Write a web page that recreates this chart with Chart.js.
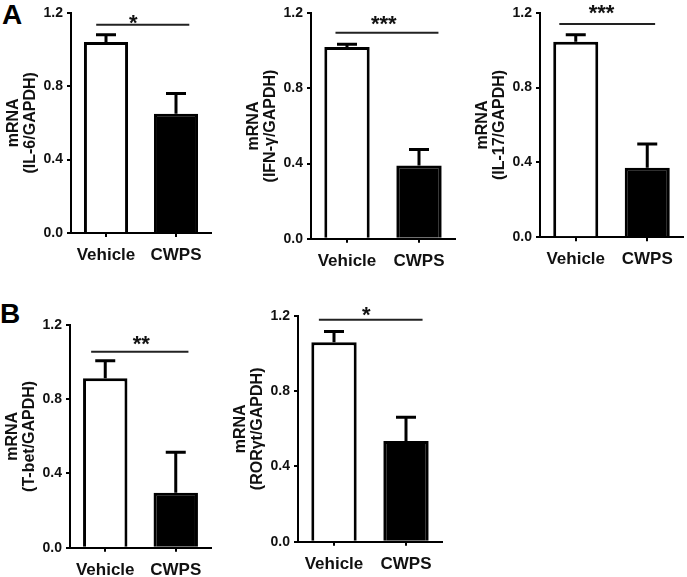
<!DOCTYPE html>
<html>
<head>
<meta charset="utf-8">
<script src="https://cdn.jsdelivr.net/npm/chart.js@4.4.1/dist/chart.umd.min.js"></script>
<style>
  html, body { margin: 0; padding: 0; background: #fff; }
  body { width: 687px; height: 577px; position: relative; overflow: hidden; font-family: "Liberation Sans", Arial, sans-serif; }
  canvas { position: absolute; }
  .panel-letter { position: absolute; font-weight: bold; font-size: 28px; line-height: 28px; color: #000; }
</style>
</head>
<body>
<div class="panel-letter" style="left:2px; top:1px;">A</div>
<div class="panel-letter" style="left:0px; top:300px;">B</div>
<canvas id="c1"></canvas>
<canvas id="c2"></canvas>
<canvas id="c3"></canvas>
<canvas id="c4"></canvas>
<canvas id="c5"></canvas>
<script>
// ---------- data ----------
const categories = ['Vehicle', 'CWPS'];

const il6Means   = [1.04, 0.65];
const il6Errors  = [0.04, 0.11];
const ifngMeans  = [1.02, 0.39];
const ifngErrors = [0.015, 0.085];
const il17Means  = [1.045, 0.372];
const il17Errors = [0.037, 0.126];
const tbetMeans  = [0.913, 0.296];
const tbetErrors = [0.095, 0.218];
const rorMeans   = [1.06, 0.536];
const rorErrors  = [0.057, 0.126];

const yTickValues = [0.0, 0.4, 0.8, 1.2];
const significance = ['*', '***', '***', '**', '*'];
const sigLevels = [1.134, 1.097, 1.14, 1.056, 1.18];

const yTitles = [
  ['mRNA', '(IL-6/GAPDH)'],
  ['mRNA', '(IFN-\u03B3/GAPDH)'],
  ['mRNA', '(IL-17/GAPDH)'],
  ['mRNA', '(T-bet/GAPDH)'],
  ['mRNA', '(ROR\u03B3t/GAPDH)']
];

// ---------- layout (positions / styles only) ----------
const FONT = '"Liberation Sans", Arial, sans-serif';
const Y_AXIS_W = 66;
const panels = [
  { id: 'c1', means: il6Means,  errors: il6Errors,  l: 71,  r: 211, t: 12.7, b: 233,   rowTop: 0,   rowBottom: 280, sigFrom: -0.14, sigTo: 1.19, starAt: 0.39, starGap: 3 },
  { id: 'c2', means: ifngMeans, errors: ifngErrors, l: 311, r: 455, t: 13.3, b: 238.7, rowTop: 0,   rowBottom: 280, sigFrom: -0.16, sigTo: 1.27, starAt: 0.51, starGap: 10 },
  { id: 'c3', means: il17Means, errors: il17Errors, l: 540, r: 683, t: 12.7, b: 237.3, rowTop: 0,   rowBottom: 280, sigFrom: -0.23, sigTo: 1.11, starAt: 0.36, starGap: 12 },
  { id: 'c4', means: tbetMeans, errors: tbetErrors, l: 70,  r: 211, t: 325,  b: 547.7, rowTop: 295, rowBottom: 577, sigFrom: -0.2,  sigTo: 1.18, starAt: 0.51, starGap: 9 },
  { id: 'c5', means: rorMeans,  errors: rorErrors,  l: 298, r: 442, t: 316,  b: 541.7, rowTop: 295, rowBottom: 577, sigFrom: -0.21, sigTo: 1.23, starAt: 0.45, starGap: 6 }
];

const annotPlugin = {
  id: 'annot',
  afterDatasetsDraw(chart) {
    const p = chart.options.plugins.annot;
    const { ctx } = chart;
    const x = chart.scales.x, y = chart.scales.y;
    const meta = chart.getDatasetMeta(0);
    ctx.save();
    // error bars (upper only)
    ctx.strokeStyle = '#000';
    ctx.lineWidth = 3;
    ctx.lineCap = 'butt';
    meta.data.forEach((bar, i) => {
      const top = y.getPixelForValue(p.means[i] + p.errors[i]);
      const base = y.getPixelForValue(p.means[i]);
      ctx.beginPath();
      ctx.moveTo(bar.x, base);
      ctx.lineTo(bar.x, top);
      ctx.moveTo(bar.x - 10, top);
      ctx.lineTo(bar.x + 10, top);
      ctx.stroke();
    });
    // significance line + stars
    const x0 = x.getPixelForValue(0);
    const step = x.getPixelForValue(1) - x0;
    const ly = y.getPixelForValue(p.sigLevel);
    ctx.strokeStyle = '#222';
    ctx.lineWidth = 2;
    ctx.beginPath();
    ctx.moveTo(x0 + step * p.sigFrom, ly);
    ctx.lineTo(x0 + step * p.sigTo, ly);
    ctx.stroke();
    ctx.fillStyle = '#111';
    ctx.font = 'bold 22px ' + FONT;
    ctx.textAlign = 'center';
    ctx.textBaseline = 'alphabetic';
    ctx.fillText(p.stars, x0 + step * p.starAt, ly - p.starGap + 8);
    ctx.restore();
  }
};

panels.forEach((pn, k) => {
  const canvas = document.getElementById(pn.id);
  const cl = pn.l - Y_AXIS_W;
  const cr = pn.r + 4;
  const w = Math.round(cr - cl);
  const h = pn.rowBottom - pn.rowTop;
  canvas.width = w; canvas.height = h;
  canvas.style.left = cl + 'px';
  canvas.style.top = pn.rowTop + 'px';
  canvas.style.width = w + 'px';
  canvas.style.height = h + 'px';

  new Chart(canvas, {
    type: 'bar',
    data: {
      labels: categories,
      datasets: [{
        data: pn.means,
        backgroundColor: ['#ffffff', '#000000'],
        borderColor: '#000000',
        borderWidth: 3,
        borderSkipped: 'bottom',
        categoryPercentage: 1.0,
        barPercentage: 0.63
      }]
    },
    options: {
      responsive: false,
      animation: false,
      devicePixelRatio: 1,
      layout: { padding: { top: pn.t - pn.rowTop, right: cr - pn.r, left: 0, bottom: 0 } },
      plugins: {
        legend: { display: false },
        tooltip: { enabled: false },
        annot: { means: pn.means, errors: pn.errors, sigLevel: sigLevels[k], stars: significance[k], sigFrom: pn.sigFrom, sigTo: pn.sigTo, starAt: pn.starAt, starGap: pn.starGap }
      },
      scales: {
        x: {
          offset: true,
          grid: { display: true, offset: false, drawOnChartArea: false, drawTicks: true, tickLength: 4, color: '#000', lineWidth: 2 },
          border: { display: true, color: '#000', width: 2 },
          ticks: { color: '#111', padding: 8, font: { family: FONT, size: 17, weight: 'bold' } },
          afterFit(scale) { scale.height = pn.rowBottom - pn.b; }
        },
        y: {
          min: 0,
          max: 1.2,
          afterBuildTicks(scale) { scale.ticks = yTickValues.map(v => ({ value: v })); },
          grid: { display: true, drawOnChartArea: false, drawTicks: true, tickLength: 4, color: '#000', lineWidth: 2 },
          border: { display: true, color: '#000', width: 2 },
          ticks: { color: '#111', padding: 4, font: { family: FONT, size: 14, weight: 'bold' }, callback: v => Number(v).toFixed(1) },
          title: { display: true, text: yTitles[k], color: '#111', padding: 0, font: { family: FONT, size: 16, weight: 'bold', lineHeight: 1.0625 } },
          afterFit(scale) { scale.width = Y_AXIS_W; }
        }
      }
    },
    plugins: [annotPlugin]
  });
});
</script>
</body>
</html>
